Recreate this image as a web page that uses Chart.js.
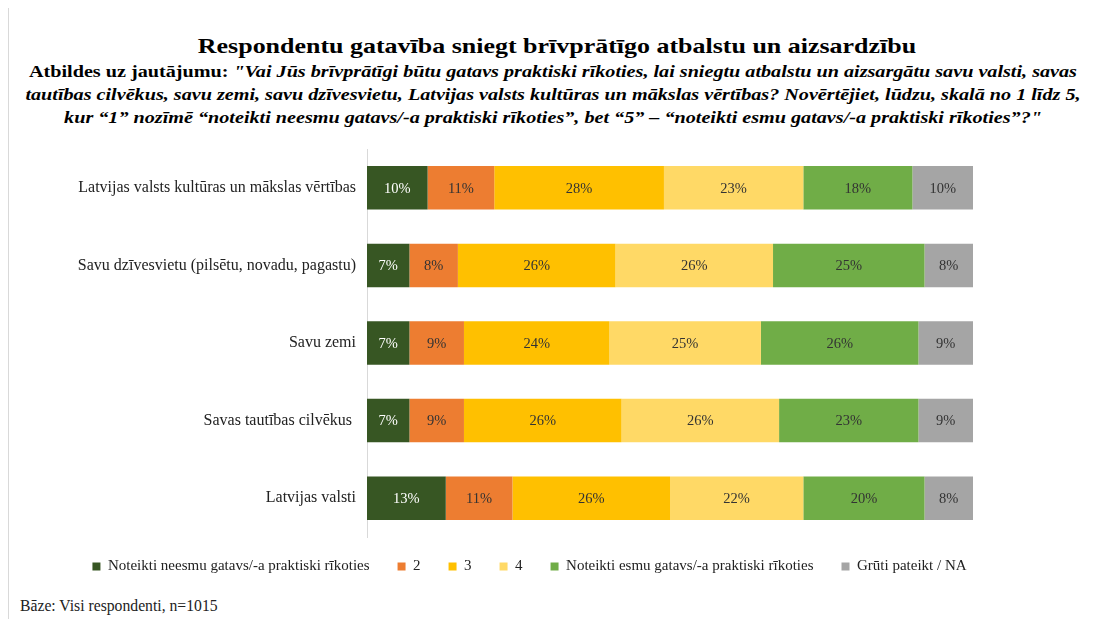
<!DOCTYPE html>
<html>
<head>
<meta charset="utf-8">
<script src="https://cdn.jsdelivr.net/npm/chart.js@4/dist/chart.umd.min.js"></script>
<style>
  body { margin: 0; width: 1097px; height: 619px; background: #fff; overflow: hidden; position: relative; font-family: "Liberation Serif", "Times New Roman", serif; color: #000; }
  .frame { position: absolute; left: 8px; top: 8px; width: 1px; height: 611px; background: #d9d9d9; }
  .title { position: absolute; left: 0; top: 32px; width: 1114px; text-align: center; font-weight: bold; font-size: 22px; line-height: 28px; transform: scaleX(1.18); transform-origin: 557px 0; }
  .sub { position: absolute; left: 0; top: 60px; width: 1106px; text-align: center; font-weight: bold; font-size: 16px; line-height: 23px; white-space: nowrap; transform: scaleX(1.26); transform-origin: 553px 0; }
  .sub i { font-style: italic; }
  .base { position: absolute; left: 20px; top: 597px; font-size: 15.7px; line-height: 18px; color: #222; }
  #chart { position: absolute; left: 0; top: 0; }
</style>
</head>
<body>
<div class="frame"></div>
<div class="title">Respondentu gatavība sniegt brīvprātīgo atbalstu un aizsardzību</div>
<div class="sub">Atbildes uz jautājumu: <i>"Vai Jūs brīvprātīgi būtu gatavs praktiski rīkoties, lai sniegtu atbalstu un aizsargātu savu valsti, savas</i><br><i>tautības cilvēkus, savu zemi, savu dzīvesvietu, Latvijas valsts kultūras un mākslas vērtības? Novērtējiet, lūdzu, skalā no 1 līdz 5,</i><br><i>kur “1” nozīmē “noteikti neesmu gatavs/-a praktiski rīkoties”, bet “5” – “noteikti esmu gatavs/-a praktiski rīkoties”?"</i></div>
<canvas id="chart" width="1061" height="590"></canvas>
<div class="base">Bāze: Visi respondenti, n=1015</div>
<script>
// kategorijas un atbilžu sērijas (%)
const categories = [
    'Latvijas valsts kultūras un mākslas vērtības',
    'Savu dzīvesvietu (pilsētu, novadu, pagastu)',
    'Savu zemi',
    'Savas tautības cilvēkus ',
    'Latvijas valsti'
];
const seriesNames = ['Noteikti neesmu gatavs/-a praktiski rīkoties', '2', '3', '4', 'Noteikti esmu gatavs/-a praktiski rīkoties', 'Grūti pateikt / NA'];
const answer1 = [10, 7, 7, 7, 13];
const answer2 = [11, 8, 9, 9, 11];
const answer3 = [28, 26, 24, 26, 26];
const answer4 = [23, 26, 25, 26, 22];
const answer5 = [18, 25, 26, 23, 20];
const answerNA = [10, 8, 9, 9, 8];

const colors = ['#375623', '#ED7D31', '#FFC000', '#FFD966', '#70AD47', '#A5A5A5'];
const labelColors = ['#ffffff', '#333333', '#333333', '#333333', '#333333', '#333333'];
const allSeries = [answer1, answer2, answer3, answer4, answer5, answerNA];

const datasets = allSeries.map((d, i) => ({
    label: seriesNames[i],
    data: d,
    backgroundColor: colors[i],
    borderWidth: 0,
    barPercentage: 0.56,
    categoryPercentage: 1
}));

// procentu uzraksti uz stabiņiem
const valueLabels = {
    id: 'valueLabels',
    afterDatasetsDraw(chart) {
        const ctx = chart.ctx;
        ctx.save();
        ctx.font = '14.5px "Liberation Serif", serif';
        ctx.textAlign = 'center';
        ctx.textBaseline = 'middle';
        chart.data.datasets.forEach((ds, i) => {
            chart.getDatasetMeta(i).data.forEach((bar, j) => {
                const x = (bar.x + bar.base) / 2;
                ctx.fillStyle = labelColors[i];
                ctx.fillText(ds.data[j] + '%', x, bar.y + 1);
            });
        });
        ctx.restore();
    }
};

// leģendu pavelk tuvāk grafikam un nedaudz pa labi
const legendShift = {
    id: 'legendShift',
    afterLayout(chart) {
        chart.legend.top -= 6;
        chart.legend.bottom -= 6;
        chart.legend.left += 43;
        chart.legend.right += 43;
    }
};

new Chart(document.getElementById('chart').getContext('2d'), {
    type: 'bar',
    data: { labels: categories, datasets: datasets },
    options: {
        indexAxis: 'y',
        responsive: false,
        devicePixelRatio: 1,
        animation: false,
        layout: { padding: { top: 149, right: 88, left: 0, bottom: 0 } },
        scales: {
            x: { stacked: true, min: 0, max: 100, display: false },
            y: {
                stacked: true,
                grid: { display: false, drawTicks: false },
                border: { display: true, color: '#d9d9d9', width: 1 },
                ticks: { color: '#222', padding: 11, font: { family: '"Liberation Serif", serif', size: 16 } },
                afterFit(scale) { scale.width = 367; }
            }
        },
        plugins: {
            legend: {
                position: 'bottom',
                labels: {
                    boxWidth: 8,
                    boxHeight: 8,
                    padding: 28,
                    color: '#222',
                    font: { family: '"Liberation Serif", serif', size: 15 }
                }
            },
            tooltip: { enabled: false }
        }
    },
    plugins: [valueLabels, legendShift]
});
</script>
</body>
</html>
